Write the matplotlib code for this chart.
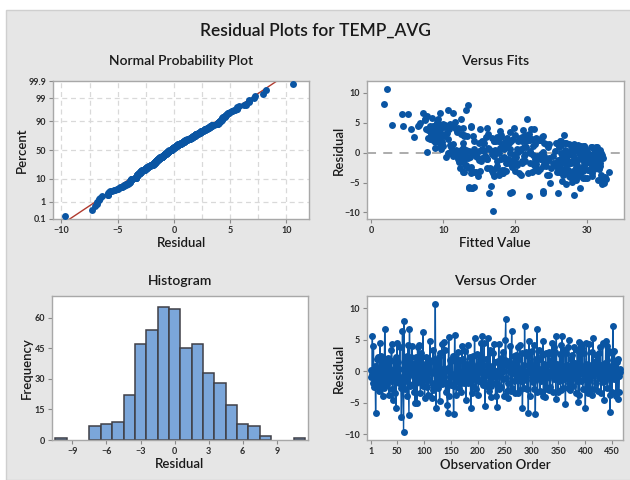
import numpy as np
import matplotlib
matplotlib.use("Agg")
import matplotlib.pyplot as plt
from matplotlib.patches import Rectangle
from statistics import NormalDist

plt.rcParams['font.family'] = ['Lato', 'DejaVu Sans']

# residuals in observation order
resid = [
    -0.9, 0.2, -0.5, 5.6, -1.8, 4.0, -2.5, -1.3, 0.8, -6.7, -0.4, 1.9, -2.1, 2.2, -1.6,
    -2.3, -3.2, 4.5, -0.8, 2.4, -2.0, 0.1, -4.0, 1.4, -2.7, -0.2, 6.7, 2.0, -1.1, -1.7,
    1.0, -2.2, 2.1, -0.6, -3.7, 0.4, 1.8, -1.5, 3.4, 4.3, -2.9, -4.6, -1.2, 1.6, -0.1,
    -3.4, 2.3, -5.9, -0.3, 4.5, -1.7, 1.5, -1.9, 0.3, 3.8, -0.9, -2.6, -7.3, -2.2, 6.4,
    -1.4, -9.7, 7.9, -1.6, -2.9, 1.7, -0.7, 2.4, -3.9, 4.1, -1.0, -7.0, 6.7, -2.4, 0.0,
    2.3, -0.5, 4.0, -2.0, 0.5, -3.3, 1.3, -5.1, -0.2, 2.2, -1.9, -5.0, 3.9, -1.6, 4.1,
    -0.8, 1.9, -3.4, -0.4, 2.8, -1.1, -2.0, 6.2, -2.3, 0.2, -4.3, 1.2, -1.4, 2.3, -0.6,
    -2.5, 1.9, -3.8, 0.4, -1.3, 4.8, -0.1, 1.6, -1.8, -4.2, -3.0, 3.4, -0.3, 2.0, -2.4,
    10.6, -5.9, 1.5, -1.0, 0.7, -2.6, 2.2, -0.5, -4.8, 2.8, -1.5, 0.3, 4.3, -2.0, -1.7,
    -1.2, 4.6, -0.7, 3.4, -3.3, 0.1, -1.8, -5.3, -6.7, 0.5, 5.4, -4.0, -0.9, 1.8, -2.2,
    1.6, -0.4, 2.4, -2.1, -6.8, -2.4, 5.8, -1.3, 2.1, -3.7, 0.0, 1.3, -1.7, 3.0, -2.6,
    -0.2, 1.7, -3.3, -1.9, -1.1, 4.0, -0.8, 2.0, -1.9, 0.2, 3.2, -1.5, -4.6, 1.1, -1.6,
    4.2, -1.8, 0.4, -1.0, 2.3, -0.3, -5.9, 1.5, -3.4, 0.9, -2.3, 2.4, -0.5, 5.2, -1.4,
    0.3, -2.9, 2.7, -0.9, 1.2, -3.8, 0.6, -1.6, 1.9, -0.2, 4.4, -1.7, 5.6, -1.2, -2.2,
    -1.7, 4.4, -5.5, 0.1, -2.4, 2.0, -0.6, 1.0, 5.3, -3.1, -2.0, -1.4, 3.3, -2.4, -4.1,
    0.8, -1.0, 2.8, -1.9, 4.3, -0.4, 1.4, -3.9, 0.0, -1.8, -5.7, 1.6, -0.7, 4.3, -2.9,
    1.2, -0.5, 2.1, -2.5, 0.6, -1.3, 3.1, -3.9, 0.1, 1.7, 4.9, 8.2, -1.1, 0.9, -3.2,
    -1.8, -4.3, 1.6, -0.1, 4.0, -3.1, 0.4, 6.4, -2.6, 1.1, -0.3, 2.4, -1.5, 0.7, -3.4,
    2.6, -1.2, 0.2, 3.9, -3.4, 2.0, -0.6, 4.2, -3.0, 0.5, -1.6, 2.8, -5.8, -0.4, 1.0,
    -2.7, 7.1, -0.9, 3.0, -1.4, 0.1, -2.8, 2.4, -6.6, 4.7, -0.2, 1.5, -3.9, 0.6, -1.0,
    3.2, -1.7, 0.8, -2.9, 4.1, -0.5, -6.8, 1.9, -1.2, 6.7, -3.3, 0.3, 3.3, -0.8, 1.9,
    -3.1, 0.4, -1.5, 2.6, -0.1, 4.8, -3.9, 1.2, -0.7, -4.1, 2.9, -1.1, 0.9, -2.8, 2.7,
    -0.3, 3.1, -3.0, 0.0, -2.5, 1.7, -0.6, 4.5, -3.3, 0.6, 3.8, -1.3, -0.2, 3.0, -4.4,
    5.6, -0.9, 1.1, -3.3, 0.4, -1.6, 2.7, -0.4, -3.0, 4.2, -1.0, 5.6, -2.6, 0.8, 3.3,
    -1.3, 0.2, -5.2, 2.9, -0.6, 1.0, -2.6, 3.8, 5.0, -1.8, 0.6, -3.0, 1.9, -0.3, -1.1,
    2.5, -2.4, 0.7, 3.9, -0.8, 1.3, -3.4, 0.1, -1.5, 3.4, -0.2, -4.9, 4.6, -3.8, 0.9,
    -1.6, 4.3, -0.5, 3.6, -2.8, 0.3, -1.2, 2.8, -0.9, -5.9, 1.1, 4.4, -3.2, 0.5, -3.4,
    0.0, 4.3, -1.4, -2.9, 0.9, -0.7, 3.1, -3.7, 5.2, -0.1, 1.4, -2.9, 0.4, -1.9, 2.6,
    -0.4, 1.7, -3.1, 0.7, 2.8, -1.1, -0.2, 3.9, -3.4, 1.0, -0.8, 4.5, -1.7, 0.2, -4.5,
    1.3, -1.5, 4.7, -0.6, 4.0, -2.7, 0.5, -1.0, 3.2, -3.8, -6.4, 0.8, -0.3, 2.9, -3.3,
    7.2, 1.8, -1.2, 3.2, -0.5, 0.9, -3.9, 1.5, -0.9, -4.4, 2.0, -3.3, -0.7, 0.3, -0.1,
]

# fitted values, same order
fits = [
    15.4, 29.3, 19.8, 9.2, 26.7, 11.7, 17.3, 30.6, 12.8, 16.3, 22.5, 17.1, 31.2, 8.6, 24.0,
    31.8, 14.6, 4.4, 23.2, 18.9, 20.3, 11.1, 27.6, 18.2, 30.9, 16.9, 9.5, 9.1, 29.7, 25.5,
    24.6, 13.2, 21.7, 30.1, 17.7, 28.0, 9.8, 26.3, 11.9, 8.3, 22.8, 31.5, 14.9, 26.9, 19.2,
    29.0, 22.3, 14.0, 12.6, 8.9, 18.7, 24.7, 25.4, 27.8, 8.0, 32.2, 16.1, 21.9, 23.9, 5.1,
    21.4, 16.9, 13.4, 29.6, 27.3, 15.6, 10.4, 9.4, 30.7, 19.8, 28.9, 28.2, 7.2, 13.8, 31.0,
    19.7, 17.0, 5.5, 31.4, 20.6, 26.1, 10.9, 32.3, 29.1, 8.8, 19.4, 24.8, 22.6, 12.2, 8.1,
    26.5, 21.0, 18.3, 30.8, 9.8, 15.2, 28.6, 7.7, 24.3, 13.5, 29.4, 29.5, 20.9, 10.6, 27.0,
    16.5, 20.4, 24.7, 11.8, 30.2, 9.9, 22.0, 19.1, 27.7, 29.9, 23.2, 8.4, 14.4, 17.2, 31.3,
    2.2, 13.6, 26.0, 18.0, 9.7, 29.2, 23.5, 31.6, 26.5, 14.1, 27.5, 16.7, 10.2, 22.6, 30.4,
    30.6, 10.2, 15.9, 9.6, 27.9, 20.4, 25.3, 27.0, 19.2, 12.5, 7.5, 28.3, 23.1, 18.6, 17.4,
    15.0, 26.8, 7.9, 13.1, 23.8, 30.9, 8.4, 19.7, 22.0, 24.4, 10.8, 28.7, 31.7, 21.3, 26.2,
    20.0, 25.9, 14.3, 27.2, 12.0, 7.6, 29.8, 17.6, 30.5, 15.7, 9.5, 26.4, 32.1, 22.4, 28.5,
    12.1, 27.0, 31.2, 16.0, 8.2, 23.6, 14.0, 28.1, 21.7, 18.9, 29.6, 20.7, 11.4, 9.1, 30.1,
    27.5, 18.5, 5.9, 29.0, 10.0, 26.6, 16.4, 31.1, 14.2, 13.0, 10.3, 22.1, 21.6, 28.4, 25.7,
    24.1, 13.9, 16.6, 30.0, 19.6, 26.2, 12.4, 21.2, 17.8, 28.8, 29.5, 15.3, 8.9, 31.5, 32.4,
    17.9, 31.8, 10.1, 22.9, 11.5, 27.3, 11.4, 14.8, 29.3, 20.2, 13.6, 24.0, 30.7, 9.7, 18.1,
    29.1, 14.5, 23.3, 26.0, 20.8, 30.3, 16.2, 28.0, 7.8, 27.1, 9.3, 1.7, 19.0, 31.3, 12.9,
    18.8, 29.7, 12.7, 26.4, 22.2, 16.8, 31.7, 4.3, 25.0, 28.2, 21.4, 9.0, 27.8, 15.4, 20.5,
    15.9, 12.9, 28.3, 9.4, 30.6, 17.1, 23.0, 8.7, 19.9, 26.9, 29.9, 13.3, 14.2, 32.0, 11.0,
    23.4, 10.7, 30.0, 12.9, 17.5, 14.0, 26.8, 16.8, 19.6, 6.6, 11.8, 22.7, 28.9, 18.4, 31.4,
    12.5, 22.6, 8.9, 30.3, 16.0, 15.8, 26.0, 26.4, 28.1, 11.3, 17.9, 25.5, 10.5, 20.1, 21.5,
    15.1, 29.8, 24.2, 18.0, 10.6, 10.9, 27.4, 28.0, 13.7, 32.0, 9.6, 26.7, 21.5, 28.6, 23.7,
    16.7, 8.7, 28.0, 31.9, 12.3, 25.7, 30.4, 8.2, 22.3, 19.3, 21.1, 24.6, 27.7, 26.8, 32.6,
    7.4, 13.4, 29.5, 25.8, 17.2, 31.2, 20.9, 27.9, 18.7, 12.8, 26.3, 12.4, 30.8, 28.8, 9.2,
    27.2, 15.0, 32.1, 18.0, 24.0, 28.6, 13.5, 7.9, 6.8, 21.0, 31.0, 26.5, 19.4, 29.3, 16.1,
    22.9, 28.4, 14.3, 9.3, 31.5, 26.3, 18.2, 23.8, 12.6, 19.3, 27.4, 27.9, 2.9, 20.8, 30.5,
    30.7, 9.9, 21.2, 17.9, 16.6, 12.0, 25.9, 23.9, 29.8, 29.0, 9.5, 8.5, 27.2, 20.6, 13.9,
    28.9, 13.8, 19.5, 30.1, 26.1, 14.7, 10.3, 31.9, 11.6, 17.7, 24.3, 23.0, 13.1, 27.3, 17.5,
    31.3, 15.5, 29.4, 20.3, 12.9, 23.5, 27.9, 10.8, 16.9, 30.7, 18.5, 6.5, 26.0, 22.0, 28.5,
    27.7, 19.0, 9.1, 14.6, 15.1, 31.6, 29.7, 22.8, 8.3, 28.3, 23.8, 16.2, 30.2, 20.0, 12.7,
    13.1, 8.8, 29.9, 21.9, 25.2, 31.2, 17.0, 27.5, 24.7, 32.4, 15.4, 33.0, 28.2, 11.9, 30.0,
]

# histogram bins (centres) and counts
hist_centers = [-10, -9, -8, -7, -6, -5, -4, -3, -2, -1, 0, 1, 2, 3, 4, 5, 6, 7, 8, 9, 10, 11]
hist_counts = [1, 0, 0, 7, 8, 9, 22, 47, 54, 65, 64, 45, 47, 33, 28, 17, 8, 7, 2, 0, 0, 1]

pct_ticks = [0.1, 1, 10, 50, 90, 99, 99.9]
pct_grid = [1, 10, 50, 90, 99]

blue = '#0a55a3'
spine_c = '#a8a8a8'
txt_c = '#2b2b2b'

W, H = 630, 480
fig = plt.figure(figsize=(6.3, 4.8), dpi=100, facecolor='white')
fig.patches.append(Rectangle((6 / W, 0), 1, 1 - 10 / H, transform=fig.transFigure,
                             facecolor='#e6e6e6', edgecolor='#cfcfcf', lw=1, zorder=-10))


def box(l, t, r, b):
    return fig.add_axes([l / W, 1 - b / H, (r - l) / W, (b - t) / H])


def style(ax):
    for s in ax.spines.values():
        s.set_color(spine_c)
        s.set_linewidth(1.0)
    ax.tick_params(length=3, width=0.8, color='#8a8a8a', labelsize=6.5,
                   labelcolor=txt_c, pad=2)
    for lab in ax.get_xticklabels() + ax.get_yticklabels():
        lab.set_fontweight('bold')


def ftext(x, y, s, size=9.5, **kw):
    fig.text(x / W, 1 - y / H, s, ha='center', va='center', fontsize=size,
             color='#1a1a1a', fontweight='semibold', **kw)


ax1 = box(53, 81, 309, 219)
ax2 = box(367, 81, 624, 219)
ax3 = box(52, 296, 308, 440)
ax4 = box(367, 296, 623, 440)

# Normal probability plot
nd = NormalDist()
r_sorted = np.sort(np.array(resid))
n = len(r_sorted)
zs = np.array([nd.inv_cdf((i - 0.3) / (n + 0.4)) for i in range(1, n + 1)])
mu, sd = r_sorted.mean(), r_sorted.std(ddof=1)
zl = np.array([-3.5, 3.5])
zlim = (nd.inv_cdf(0.001), nd.inv_cdf(0.999))
for gx in np.arange(-10, 12.6, 2.5):
    ax1.axvline(gx, color='#d9d9d9', lw=0.9, ls=(0, (4, 3)), zorder=0)
for p in pct_grid:
    ax1.axhline(nd.inv_cdf(p / 100), color='#d9d9d9', lw=0.9, ls=(0, (4, 3)), zorder=0)
ax1.plot(mu + sd * zl, zl, color='#b03a2e', lw=1.0, zorder=2)
ax1.plot(r_sorted, zs, 'o', color=blue, ms=5, mec='none', zorder=3)
ax1.set_xlim(-10.75, 12.0)
ax1.set_ylim(*zlim)
ax1.set_xticks([-10, -5, 0, 5, 10])
ax1.set_yticks([nd.inv_cdf(p / 100) for p in pct_ticks])
ax1.set_yticklabels([f'{p:g}' for p in pct_ticks])
style(ax1)

# Versus fits
ax2.axhline(0, color='#a6a6a6', lw=1.3, ls=(0, (5, 4)), zorder=1)
ax2.plot(fits, resid, 'o', color=blue, ms=5, mec='none', zorder=3)
ax2.set_xlim(-0.6, 35.1)
ax2.set_ylim(-11.1, 12.0)
ax2.set_xticks([0, 10, 20, 30])
ax2.set_yticks([-10, -5, 0, 5, 10])
style(ax2)

# Histogram
hc = [c for c, k in zip(hist_centers, hist_counts) if k > 0]
hk = [k for k in hist_counts if k > 0]
ax3.bar(hc, hk, width=1.0, color='#7ba6da', edgecolor='#3f3f46', lw=1.1, zorder=2)
ax3.set_xlim(-10.8, 11.75)
ax3.set_ylim(0, 70.6)
ax3.set_xticks([-9, -6, -3, 0, 3, 6, 9])
ax3.set_yticks([0, 15, 30, 45, 60])
style(ax3)

# Versus order
order = np.arange(1, len(resid) + 1)
ax4.plot(order, resid, '-', color=blue, lw=1.0, zorder=2)
ax4.plot(order, resid, 'o', color=blue, ms=5, mec='none', zorder=3)
ax4.set_xlim(-6, 470)
ax4.set_ylim(-10.9, 11.9)
ax4.set_xticks([1, 50, 100, 150, 200, 250, 300, 350, 400, 450])
ax4.set_yticks([-10, -5, 0, 5, 10])
style(ax4)

# titles and labels
ftext(315, 31, 'Residual Plots for TEMP_AVG', size=12.5)
ftext(181, 61, 'Normal Probability Plot', size=10)
ftext(495, 61, 'Versus Fits', size=10)
ftext(180, 281, 'Histogram', size=10)
ftext(495, 281, 'Versus Order', size=10)
ftext(181, 243, 'Residual')
ftext(495, 243, 'Fitted Value')
ftext(180, 464, 'Residual')
ftext(495, 465, 'Observation Order')
ftext(22, 150, 'Percent', rotation=90)
ftext(339, 150, 'Residual', rotation=90)
ftext(27, 368, 'Frequency', rotation=90)
ftext(339, 368, 'Residual', rotation=90)

fig.savefig('out.png', dpi=100, facecolor=fig.get_facecolor())
